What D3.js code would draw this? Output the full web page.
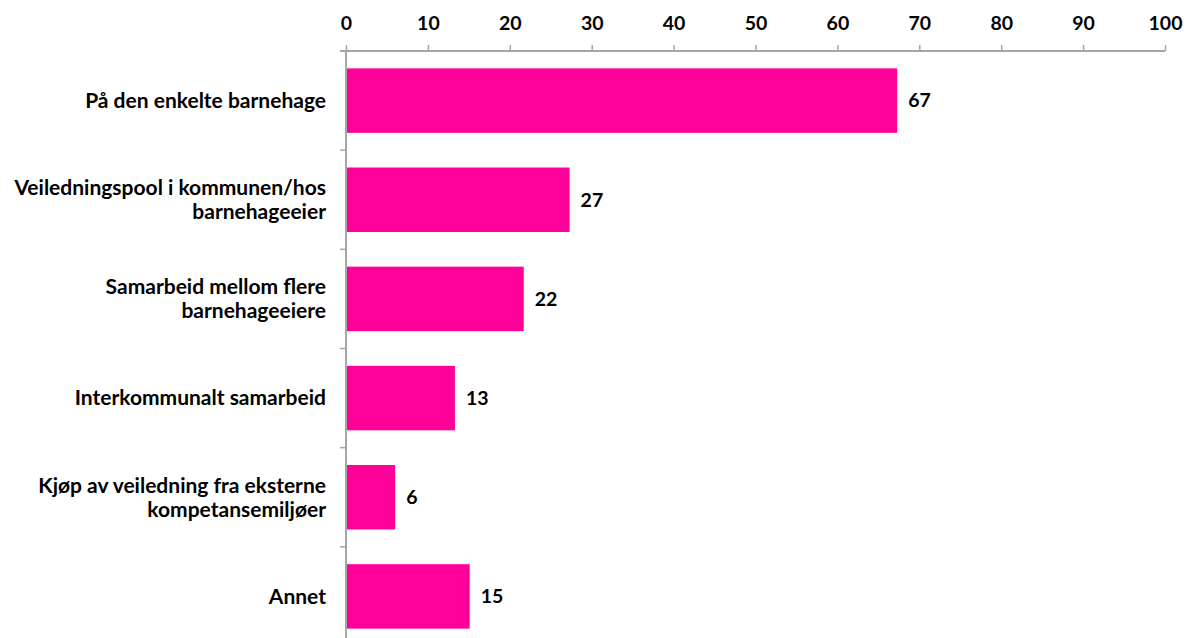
<!DOCTYPE html>
<html><head><meta charset="utf-8">
<script src="https://cdn.jsdelivr.net/npm/d3@7"></script>
<style>body{margin:0;background:#fff}svg{display:block}text{font-family:Lato,"Open Sans",sans-serif;font-weight:bold;fill:#000}</style>
</head><body><svg id="c" width="1188" height="638"></svg>
<script>
const categories = [
  ["På den enkelte barnehage"],
  ["Veiledningspool i kommunen/hos", "barnehageeier"],
  ["Samarbeid mellom flere", "barnehageeiere"],
  ["Interkommunalt samarbeid"],
  ["Kjøp av veiledning fra eksterne", "kompetansemiljøer"],
  ["Annet"]
];
const values = [67.3, 27.3, 21.7, 13.3, 6.0, 15.1];
const valueLabels = ["67", "27", "22", "13", "6", "15"];
const ticks = [0, 10, 20, 30, 40, 50, 60, 70, 80, 90, 100];

const svg = d3.select("#c");
const x = d3.scaleLinear().domain([0, 100]).range([346, 1165]);
const y = d3.scaleBand().domain(d3.range(categories.length)).range([51, 646]).paddingInner(0.35).paddingOuter(0.175);
const axisColor = "#a6a6a6";

// top axis
const xa = svg.append("g").attr("transform", "translate(0,51)")
  .call(d3.axisTop(x).tickValues(ticks).tickSize(6).tickSizeOuter(0).tickPadding(15));
xa.select(".domain").attr("stroke", axisColor).attr("stroke-width", 2).attr("d", "M340,0H1165");
xa.selectAll(".tick line").attr("stroke", axisColor).attr("stroke-width", 1.5);
xa.selectAll(".tick text").attr("font-size", 19.5).attr("font-family", "Lato, sans-serif").attr("font-weight", "bold").attr("fill", "#000");

// left axis line and ticks between bands
const step = y.step();
const bandEdges = d3.range(categories.length + 1).map(i => 51 + i * step);
svg.append("line").attr("x1", 346).attr("x2", 346).attr("y1", 51).attr("y2", 646).attr("stroke", axisColor).attr("stroke-width", 2);
svg.selectAll("line.yt").data(bandEdges.slice(1)).enter().append("line").attr("class", "yt")
  .attr("x1", 340).attr("x2", 346).attr("y1", d => d).attr("y2", d => d).attr("stroke", axisColor).attr("stroke-width", 1.5);

// bars
svg.selectAll("rect.bar").data(values).enter().append("rect").attr("class", "bar")
  .attr("x", x(0) + 1).attr("y", (d, i) => y(i)).attr("width", d => x(d) - x(0) - 1).attr("height", y.bandwidth())
  .attr("fill", "#ff0099");

// value labels
svg.selectAll("text.val").data(values).enter().append("text").attr("class", "val")
  .attr("x", d => x(d) + 11).attr("y", (d, i) => y(i) + y.bandwidth() / 2).attr("dy", "0.35em")
  .attr("font-size", 19.5).text((d, i) => valueLabels[i]);

// category labels
const lh = 24;
categories.forEach((lines, i) => {
  const cy = y(i) + y.bandwidth() / 2;
  const t = svg.append("text").attr("text-anchor", "end").attr("font-size", 21);
  lines.forEach((ln, j) => {
    t.append("tspan").attr("x", 326).attr("y", cy + (j - (lines.length - 1) / 2) * lh).attr("dy", "0.35em").text(ln);
  });
});
</script></body></html>
